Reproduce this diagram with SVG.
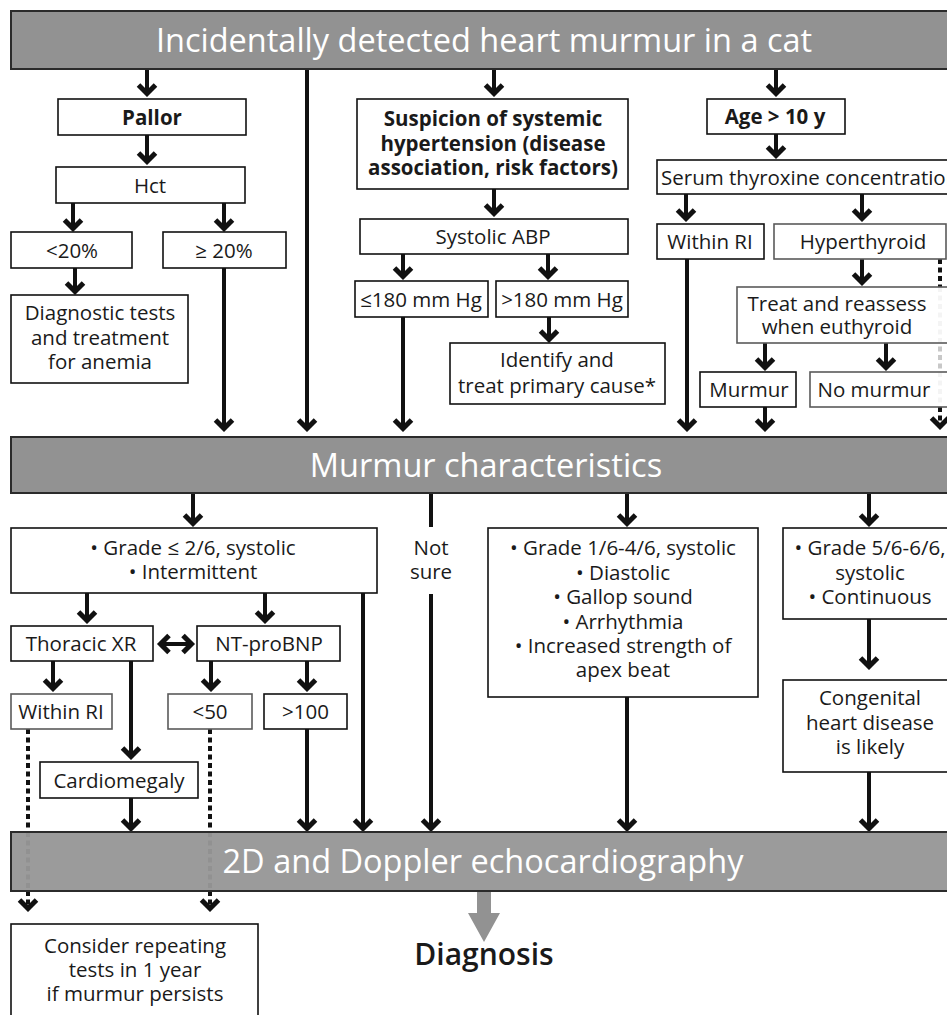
<svg xmlns="http://www.w3.org/2000/svg" width="947" height="1015" viewBox="0 0 947 1015">
  <style>
    .box { fill: #ffffff; stroke: #111111; stroke-width: 1.6; }
    .boxg { fill: #ffffff; stroke: #5a5a5a; stroke-width: 1.6; }
    .banner { fill: #929292; stroke: #2b2b2b; stroke-width: 2; }
    .t { font-family: "Open Sans", "Noto Sans", "Liberation Sans", sans-serif; font-size: 20.5px; fill: #1a1a1a; text-anchor: middle; }
    .ts { text-anchor: start; }
    .b { font-weight: bold; }
    .bt { font-family: "Open Sans", "Noto Sans", "Liberation Sans", sans-serif; font-size: 32.5px; fill: #ffffff; text-anchor: middle; }
    .dx { font-size: 30px; font-weight: 600; }
    .ln { stroke: #111111; stroke-width: 4; fill: none; marker-end: url(#ah); }
    .plain { stroke: #111111; stroke-width: 4; fill: none; }
    .dash { stroke: #111111; stroke-width: 4; fill: none; stroke-dasharray: 5 3.5; }
    .dashlt { stroke: #c8c8c8; stroke-width: 4; fill: none; stroke-dasharray: 5 3.5; }
    .dashmd { stroke: #7a7a7a; stroke-width: 4; fill: none; stroke-dasharray: 5 3.5; }
  </style>
  <defs>
    <marker id="ah" markerUnits="userSpaceOnUse" markerWidth="20" markerHeight="20" refX="-3" refY="0" orient="auto-start-reverse" overflow="visible">
      <path d="M-12,-8.5 L-3.5,0 L-12,8.5" fill="none" stroke="#111111" stroke-width="5"/>
    </marker>
  </defs>

  <rect width="947" height="1015" fill="#ffffff"/>

  <!-- connectors -->
  <g id="connectors">
    <!-- from top banner -->
    <line class="ln" x1="147" y1="69" x2="147" y2="94"/>
    <line class="ln" x1="307" y1="69" x2="307" y2="429"/>
    <line class="ln" x1="494" y1="69" x2="494" y2="94"/>
    <line class="ln" x1="776" y1="69" x2="776" y2="94"/>
    <!-- pallor branch -->
    <line class="ln" x1="147" y1="135" x2="147" y2="162"/>
    <line class="ln" x1="73" y1="203" x2="73" y2="229"/>
    <line class="ln" x1="224" y1="203" x2="224" y2="229"/>
    <line class="ln" x1="75" y1="268" x2="75" y2="292"/>
    <line class="ln" x1="224" y1="268" x2="224" y2="429"/>
    <!-- hypertension branch -->
    <line class="ln" x1="494" y1="189" x2="494" y2="214"/>
    <line class="ln" x1="403" y1="254" x2="403" y2="277"/>
    <line class="ln" x1="548" y1="254" x2="548" y2="277"/>
    <line class="ln" x1="549" y1="317" x2="549" y2="340"/>
    <line class="ln" x1="403" y1="317" x2="403" y2="429"/>
    <!-- age branch -->
    <line class="ln" x1="776" y1="134" x2="776" y2="156"/>
    <line class="ln" x1="686" y1="194" x2="686" y2="219"/>
    <line class="ln" x1="862" y1="194" x2="862" y2="219"/>
    <line class="ln" x1="687" y1="259" x2="687" y2="429"/>
    <line class="ln" x1="862" y1="259" x2="862" y2="283"/>
    <line class="ln" x1="765" y1="343" x2="765" y2="368"/>
    <line class="ln" x1="886" y1="343" x2="886" y2="368"/>
    <line class="ln" x1="765" y1="407" x2="765" y2="429"/>
    <line class="dash" x1="940" y1="259" x2="940" y2="287"/>
    <line class="dashlt" x1="940" y1="287" x2="940" y2="407"/>
    <line class="dash" x1="940" y1="407" x2="940" y2="427" marker-end="url(#ah)"/>

    <!-- from murmur characteristics -->
    <line class="ln" x1="193" y1="493" x2="193" y2="524"/>
    <line class="plain" x1="431" y1="493" x2="431" y2="527"/>
    <line class="ln" x1="431" y1="594" x2="431" y2="829"/>
    <line class="ln" x1="627" y1="493" x2="627" y2="524"/>
    <line class="ln" x1="869" y1="493" x2="869" y2="524"/>
    <!-- low grade branch -->
    <line class="ln" x1="87" y1="593" x2="87" y2="621"/>
    <line class="ln" x1="265" y1="593" x2="265" y2="621"/>
    <line class="ln" x1="363" y1="593" x2="363" y2="829"/>
    <line class="ln" x1="160" y1="644" x2="192" y2="644" marker-start="url(#ah)"/>
    <line class="ln" x1="53" y1="661" x2="53" y2="689"/>
    <line class="ln" x1="131" y1="661" x2="131" y2="757"/>
    <line class="ln" x1="211" y1="661" x2="211" y2="689"/>
    <line class="ln" x1="307" y1="661" x2="307" y2="689"/>
    <line class="ln" x1="131" y1="798" x2="131" y2="829"/>
    <line class="ln" x1="307" y1="729" x2="307" y2="829"/>
    <line class="dash" x1="28" y1="729" x2="28" y2="832"/>
    <line class="dashmd" x1="28" y1="832" x2="28" y2="891"/>
    <line class="dash" x1="28" y1="891" x2="28" y2="909" marker-end="url(#ah)"/>
    <line class="dash" x1="210" y1="729" x2="210" y2="832"/>
    <line class="dashmd" x1="210" y1="832" x2="210" y2="891"/>
    <line class="dash" x1="210" y1="891" x2="210" y2="909" marker-end="url(#ah)"/>
    <!-- high grade branches -->
    <line class="ln" x1="627" y1="697" x2="627" y2="829"/>
    <line class="ln" x1="869" y1="619" x2="869" y2="667"/>
    <line class="ln" x1="869" y1="772" x2="869" y2="829"/>
    <!-- to diagnosis -->
    <path d="M477,891 L491,891 L491,913 L500,913 L484,942 L468,913 L477,913 Z" fill="#929292"/>
  </g>

  <!-- banners -->
  <g id="banner-top">
    <rect class="banner" x="11" y="11" width="950" height="58"/>
    <text class="bt" x="484" y="51.5">Incidentally detected heart murmur in a cat</text>
  </g>
  <g id="banner-murmur">
    <rect class="banner" x="11" y="437" width="950" height="56"/>
    <text class="bt" x="486" y="476.5">Murmur characteristics</text>
  </g>
  <g id="banner-echo">
    <rect class="banner" x="11" y="832" width="950" height="59" fill-opacity="0.92"/>
    <text class="bt" x="483" y="873">2D and Doppler echocardiography</text>
  </g>

  <!-- pallor branch -->
  <g id="pallor"><rect class="box" x="58" y="99" width="188" height="36"/><text class="t b" x="152" y="124.5">Pallor</text></g>
  <g id="hct"><rect class="box" x="56" y="167" width="189" height="36"/><text class="t" x="150" y="192.5">Hct</text></g>
  <g id="hct-low"><rect class="box" x="11" y="232" width="121" height="36"/><text class="t" x="72" y="257.5">&lt;20%</text></g>
  <g id="hct-ok"><rect class="box" x="163" y="232" width="123" height="36"/><text class="t" x="224" y="257.5">≥ 20%</text></g>
  <g id="anemia"><rect class="box" x="11" y="295" width="177" height="88"/>
    <text class="t" x="100" y="320">Diagnostic tests</text>
    <text class="t" x="100" y="344.5">and treatment</text>
    <text class="t" x="100" y="369">for anemia</text>
  </g>

  <!-- hypertension branch -->
  <g id="hypertension"><rect class="box" x="357" y="99" width="271" height="90"/>
    <text class="t b" x="493" y="126">Suspicion of systemic</text>
    <text class="t b" x="493" y="150.5">hypertension (disease</text>
    <text class="t b" x="493" y="175">association, risk factors)</text>
  </g>
  <g id="abp"><rect class="box" x="360" y="219" width="268" height="35"/><text class="t" x="493" y="244">Systolic ABP</text></g>
  <g id="abp-low"><rect class="box" x="355" y="281" width="133" height="36"/><text class="t" x="421" y="306.5">≤180 mm Hg</text></g>
  <g id="abp-high"><rect class="box" x="496" y="281" width="132" height="36"/><text class="t" x="562" y="306.5">&gt;180 mm Hg</text></g>
  <g id="primary-cause"><rect class="box" x="450" y="343" width="215" height="61"/>
    <text class="t" x="557" y="367">Identify and</text>
    <text class="t" x="557" y="392.5">treat primary cause*</text>
  </g>

  <!-- age branch -->
  <g id="age"><rect class="box" x="707" y="99" width="138" height="35"/><text class="t b" x="775" y="124">Age &gt; 10 y</text></g>
  <g id="thyroxine"><rect class="box" x="657" y="160" width="300" height="34"/><text class="t ts" x="661" y="184.5">Serum thyroxine concentration</text></g>
  <g id="t4-normal"><rect class="box" x="657" y="224" width="107" height="35"/><text class="t" x="710" y="249">Within RI</text></g>
  <g id="hyperthyroid"><rect class="boxg" x="774" y="224" width="172" height="35"/><text class="t" x="863" y="249">Hyperthyroid</text></g>
  <g id="treat"><rect class="boxg" x="737" y="287" width="220" height="56" fill-opacity="0.8"/>
    <text class="t" x="837" y="310.5">Treat and reassess</text>
    <text class="t" x="837" y="334">when euthyroid</text>
  </g>
  <g id="murmur-persists"><rect class="box" x="700" y="372" width="96" height="35"/><text class="t" x="749" y="397">Murmur</text></g>
  <g id="no-murmur"><rect class="boxg" x="810" y="372" width="150" height="35" fill-opacity="0.8"/><text class="t" x="874" y="397">No murmur</text></g>

  <!-- murmur characteristics -->
  <g id="low-grade"><rect class="box" x="11" y="528" width="366" height="65"/>
    <text class="t" x="193" y="555">• Grade ≤ 2/6, systolic</text>
    <text class="t" x="193" y="578.5">• Intermittent</text>
  </g>
  <g id="not-sure">
    <text class="t" x="431" y="555">Not</text>
    <text class="t" x="431" y="578.5">sure</text>
  </g>
  <g id="mid-grade"><rect class="box" x="488" y="528" width="270" height="169"/>
    <text class="t" x="623" y="555">• Grade 1/6-4/6, systolic</text>
    <text class="t" x="623" y="579.5">• Diastolic</text>
    <text class="t" x="623" y="604">• Gallop sound</text>
    <text class="t" x="623" y="628.5">• Arrhythmia</text>
    <text class="t" x="623" y="653">• Increased strength of</text>
    <text class="t" x="623" y="677">apex beat</text>
  </g>
  <g id="high-grade"><rect class="box" x="783" y="528" width="180" height="91"/>
    <text class="t" x="870" y="555">• Grade 5/6-6/6,</text>
    <text class="t" x="870" y="579.5">systolic</text>
    <text class="t" x="870" y="604">• Continuous</text>
  </g>
  <g id="congenital"><rect class="box" x="783" y="680" width="180" height="92"/>
    <text class="t" x="870" y="705">Congenital</text>
    <text class="t" x="870" y="729.5">heart disease</text>
    <text class="t" x="870" y="754">is likely</text>
  </g>

  <!-- low grade work-up -->
  <g id="thoracic-xr"><rect class="box" x="11" y="626" width="142" height="35"/><text class="t" x="81" y="651">Thoracic XR</text></g>
  <g id="nt-probnp"><rect class="box" x="197" y="626" width="143" height="35"/><text class="t" x="269" y="651">NT-proBNP</text></g>
  <g id="xr-normal"><rect class="boxg" x="11" y="694" width="101" height="35"/><text class="t" x="61" y="719">Within RI</text></g>
  <g id="bnp-low"><rect class="boxg" x="168" y="694" width="84" height="35"/><text class="t" x="210" y="719">&lt;50</text></g>
  <g id="bnp-high"><rect class="box" x="264" y="694" width="83" height="35"/><text class="t" x="305.5" y="719">&gt;100</text></g>
  <g id="cardiomegaly"><rect class="box" x="40" y="762" width="158" height="36"/><text class="t" x="119" y="787.5">Cardiomegaly</text></g>
  <g id="repeat"><rect class="box" x="11" y="924" width="247" height="100"/>
    <text class="t" x="135" y="953">Consider repeating</text>
    <text class="t" x="135" y="977">tests in 1 year</text>
    <text class="t" x="135" y="1001">if murmur persists</text>
  </g>

  <g id="diagnosis">
    <text class="t dx" x="484" y="965">Diagnosis</text>
  </g>
</svg>
